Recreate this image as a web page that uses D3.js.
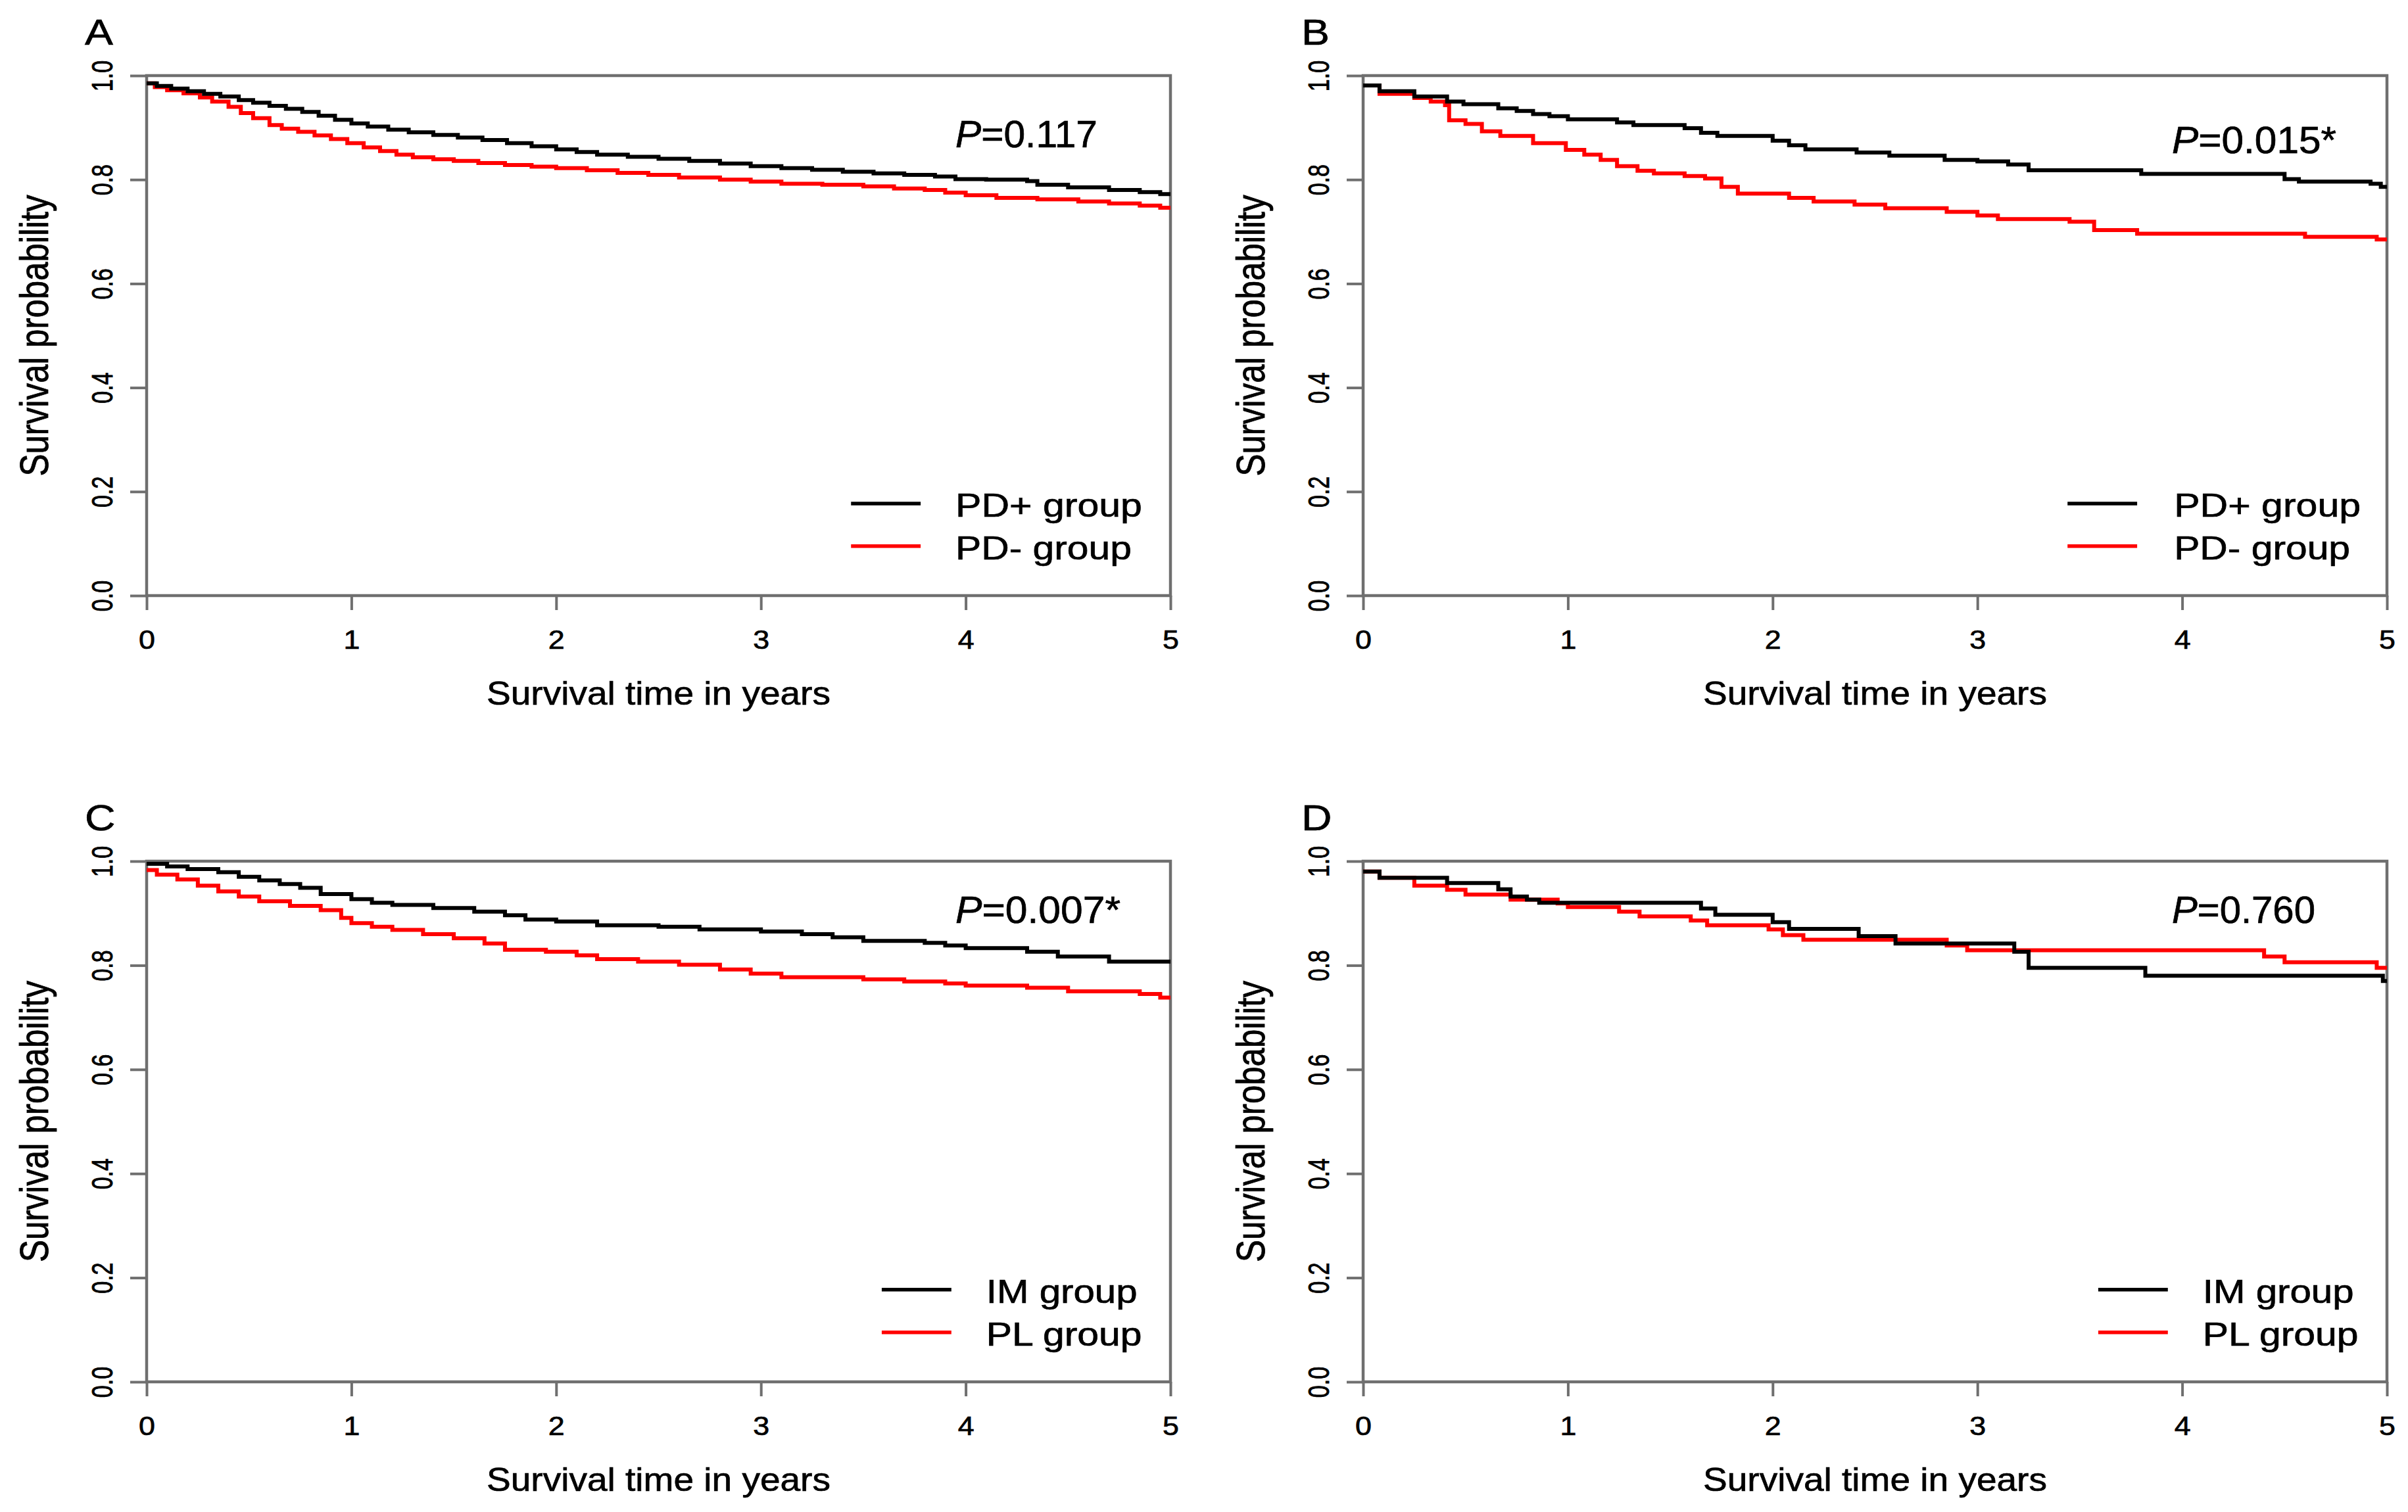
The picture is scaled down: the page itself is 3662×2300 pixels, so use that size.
<!DOCTYPE html>
<html>
<head>
<meta charset="utf-8">
<script src="https://cdn.jsdelivr.net/npm/d3@7"></script>
<style>
html,body{margin:0;padding:0;background:#fff;}
svg{display:block;}
text{font-family:"Liberation Sans",Arial,Helvetica,sans-serif;fill:#000;stroke:#000;stroke-width:0.7px;}
</style>
</head>
<body>
<svg id="chart" width="3662" height="2300"></svg>
<script>
// ---------------- data ----------------
const xTicks = [0, 1, 2, 3, 4, 5];
const yTicks = [0, 0.2, 0.4, 0.6, 0.8, 1.0];
const panelLetters = ["A", "B", "C", "D"];
const pLabels = ["0.117", "0.015*", "0.007*", "0.760"];
const groupNamesAB = ["PD+ group", "PD- group"];
const groupNamesCD = ["IM group", "PL group"];
const xTitle = "Survival time in years";
const yTitle = "Survival probability";

// [time (years), survival probability] step points
const A_black = [[0,0.985],[0.05,0.980],[0.12,0.975],[0.2,0.970],[0.28,0.965],[0.36,0.960],[0.45,0.953],[0.52,0.948],[0.6,0.942],[0.68,0.936],[0.76,0.930],[0.84,0.923],[0.92,0.915],[1.0,0.908],[1.08,0.902],[1.18,0.896],[1.28,0.891],[1.4,0.886],[1.52,0.881],[1.64,0.876],[1.76,0.870],[1.88,0.864],[2.0,0.858],[2.1,0.853],[2.2,0.848],[2.35,0.844],[2.5,0.840],[2.65,0.836],[2.8,0.831],[2.95,0.826],[3.1,0.822],[3.25,0.819],[3.4,0.815],[3.55,0.812],[3.7,0.809],[3.85,0.806],[3.95,0.801],[4.1,0.800],[4.3,0.797],[4.35,0.790],[4.5,0.785],[4.7,0.780],[4.85,0.776],[4.95,0.772],[5,0.772]];
const A_red = [[0,0.985],[0.04,0.978],[0.1,0.972],[0.18,0.966],[0.26,0.958],[0.32,0.950],[0.4,0.940],[0.46,0.928],[0.52,0.918],[0.6,0.905],[0.66,0.898],[0.74,0.892],[0.82,0.885],[0.9,0.878],[0.98,0.870],[1.06,0.862],[1.14,0.855],[1.22,0.848],[1.3,0.843],[1.4,0.839],[1.5,0.836],[1.62,0.832],[1.75,0.828],[1.88,0.825],[2.0,0.822],[2.15,0.818],[2.3,0.813],[2.45,0.809],[2.6,0.804],[2.8,0.800],[2.95,0.796],[3.1,0.792],[3.3,0.790],[3.5,0.787],[3.65,0.783],[3.8,0.780],[3.9,0.775],[4.0,0.770],[4.15,0.765],[4.35,0.762],[4.55,0.758],[4.7,0.754],[4.85,0.750],[4.95,0.746],[5,0.746]];
const B_black = [[0,0.981],[0.08,0.970],[0.25,0.960],[0.41,0.950],[0.49,0.945],[0.66,0.937],[0.75,0.932],[0.83,0.926],[0.91,0.922],[1.0,0.916],[1.24,0.910],[1.32,0.905],[1.57,0.899],[1.65,0.890],[1.73,0.884],[2.0,0.875],[2.08,0.866],[2.16,0.858],[2.41,0.852],[2.57,0.846],[2.84,0.838],[3.0,0.835],[3.15,0.829],[3.25,0.818],[3.8,0.811],[4.5,0.801],[4.57,0.796],[4.92,0.792],[4.97,0.786],[5,0.786]];
const B_red = [[0,0.981],[0.08,0.965],[0.25,0.957],[0.33,0.950],[0.4,0.943],[0.42,0.914],[0.5,0.907],[0.58,0.893],[0.67,0.884],[0.83,0.870],[0.99,0.857],[1.08,0.848],[1.16,0.838],[1.24,0.826],[1.34,0.817],[1.42,0.812],[1.57,0.807],[1.67,0.802],[1.75,0.786],[1.83,0.773],[2.08,0.765],[2.2,0.758],[2.4,0.752],[2.55,0.745],[2.85,0.738],[3.0,0.731],[3.1,0.724],[3.45,0.719],[3.57,0.703],[3.78,0.696],[4.6,0.690],[4.95,0.685],[5,0.685]];
const C_black = [[0,0.995],[0.1,0.990],[0.2,0.985],[0.35,0.979],[0.45,0.970],[0.55,0.963],[0.65,0.956],[0.75,0.949],[0.85,0.937],[1.0,0.927],[1.1,0.920],[1.2,0.916],[1.4,0.910],[1.6,0.903],[1.75,0.896],[1.85,0.888],[2.0,0.884],[2.2,0.877],[2.5,0.874],[2.7,0.869],[3.0,0.865],[3.2,0.860],[3.35,0.854],[3.5,0.847],[3.8,0.843],[3.9,0.838],[4.0,0.833],[4.3,0.826],[4.45,0.817],[4.7,0.807],[5,0.807]];
const C_red = [[0,0.983],[0.05,0.974],[0.15,0.965],[0.25,0.953],[0.35,0.942],[0.45,0.932],[0.55,0.923],[0.7,0.914],[0.85,0.906],[0.95,0.891],[1.0,0.881],[1.1,0.874],[1.2,0.868],[1.35,0.860],[1.5,0.852],[1.65,0.842],[1.75,0.830],[1.95,0.826],[2.1,0.819],[2.2,0.812],[2.4,0.807],[2.6,0.801],[2.8,0.792],[2.95,0.784],[3.1,0.777],[3.5,0.773],[3.7,0.769],[3.9,0.765],[4.0,0.761],[4.3,0.757],[4.5,0.750],[4.85,0.745],[4.95,0.738],[5,0.738]];
const D_black = [[0,0.980],[0.08,0.968],[0.41,0.958],[0.66,0.946],[0.72,0.932],[0.8,0.926],[0.86,0.920],[1.65,0.909],[1.72,0.897],[2.0,0.883],[2.08,0.870],[2.42,0.856],[2.6,0.842],[3.18,0.826],[3.25,0.795],[3.82,0.780],[4.98,0.770],[5,0.770]];
const D_red = [[0,0.980],[0.08,0.968],[0.25,0.953],[0.41,0.945],[0.5,0.936],[0.72,0.926],[0.95,0.919],[1.0,0.912],[1.25,0.903],[1.35,0.894],[1.6,0.886],[1.68,0.877],[1.98,0.869],[2.05,0.858],[2.15,0.849],[2.85,0.838],[2.95,0.829],[4.4,0.817],[4.5,0.806],[4.95,0.795],[5,0.795]];

// ---------------- layout / style ----------------
const W = 3662, H = 2300;
const AXIS = "#6f6f6f";
const RED = "#ff0000";
const panels = [
  {letter: panelLetters[0], left: 223,  top: 115,  bottom: 906,  black: A_black, red: A_red, names: groupNamesAB, p: pLabels[0], pY: 0.862, pW: 216, leg: [3.44, 3.78, 3.95]},
  {letter: panelLetters[1], left: 2073, top: 115,  bottom: 906,  black: B_black, red: B_red, names: groupNamesAB, p: pLabels[1], pY: 0.851, pW: 250, leg: [3.44, 3.78, 3.96]},
  {letter: panelLetters[2], left: 223,  top: 1310, bottom: 2102, black: C_black, red: C_red, names: groupNamesCD, p: pLabels[2], pY: 0.881, pW: 251, leg: [3.59, 3.93, 4.10]},
  {letter: panelLetters[3], left: 2073, top: 1310, bottom: 2102, black: D_black, red: D_red, names: groupNamesCD, p: pLabels[3], pY: 0.881, pW: 218, leg: [3.59, 3.93, 4.10]}
];
const PW = 1557;
const legRows = [0.177, 0.095];
const legW = {"PD+ group": 284, "PD- group": 268, "IM group": 230, "PL group": 237};

const svg = d3.select("#chart");
svg.append("rect").attr("width", W).attr("height", H).attr("fill", "#fff");

// place a text so that its rendered width equals targetW (horizontal stretch)
function fitText(sel, x, y, targetW, rotate) {
  const len = sel.node().getComputedTextLength();
  sel.attr("transform", `translate(${x},${y}) scale(${targetW / len},1)` + (rotate ? " rotate(-90)" : ""));
}

panels.forEach((p, i) => {
  const right = p.left + PW;
  const x = d3.scaleLinear().domain([0, 5]).range([p.left, right]);
  const y = d3.scaleLinear().domain([0, 1]).range([p.bottom, p.top]);
  const g = svg.append("g");

  const cid = "clip" + i;
  svg.append("clipPath").attr("id", cid).append("rect")
    .attr("x", p.left).attr("y", p.top - 3).attr("width", PW).attr("height", p.bottom - p.top + 3);

  const line = d3.line().x(d => x(d[0])).y(d => y(d[1])).curve(d3.curveStepAfter);

  // box
  g.append("rect").attr("x", p.left).attr("y", p.top).attr("width", PW).attr("height", p.bottom - p.top)
    .attr("fill", "none").attr("stroke", AXIS).attr("stroke-width", 4.5);

  // curves
  const cg = g.append("g").attr("clip-path", `url(#${cid})`);
  cg.append("path").datum(p.red).attr("d", line).attr("fill", "none").attr("stroke", RED).attr("stroke-width", 6);
  cg.append("path").datum(p.black).attr("d", line).attr("fill", "none").attr("stroke", "#000").attr("stroke-width", 6);

  // x axis
  const tfs = 40, tsx = 1.12;
  const xa = g.append("g").attr("transform", `translate(0,${p.bottom})`)
    .call(d3.axisBottom(x).tickValues(xTicks).tickSize(22).tickSizeOuter(0).tickFormat(d3.format("d")));
  xa.attr("font-family", null).attr("font-size", null);
  xa.select(".domain").remove();
  xa.selectAll(".tick line").attr("stroke", AXIS).attr("stroke-width", 4);
  xa.selectAll(".tick text").attr("y", 0).attr("dy", 0).attr("fill", "#111")
    .attr("font-size", tfs).attr("text-anchor", "middle")
    .attr("transform", `translate(0,${67 + 0.358 * tfs}) scale(${tsx},1)`);

  // y axis
  const ya = g.append("g").attr("transform", `translate(${p.left},0)`)
    .call(d3.axisLeft(y).tickValues(yTicks).tickSize(25).tickSizeOuter(0).tickFormat(d3.format(".1f")));
  ya.attr("font-family", null).attr("font-size", null);
  ya.select(".domain").remove();
  ya.selectAll(".tick line").attr("stroke", AXIS).attr("stroke-width", 4);
  const yLabX = 155 + 0.358 * 34 * 1.3 - 223;
  ya.selectAll(".tick text").attr("x", 0).attr("dy", 0).attr("fill", "#111")
    .attr("font-size", 34).attr("text-anchor", "middle")
    .attr("transform", `translate(${yLabX},0) scale(1.3,1) rotate(-90)`);

  // axis titles
  const xt = g.append("text").attr("font-size", 50).attr("text-anchor", "middle").text(xTitle);
  fitText(xt, (p.left + right) / 2, p.bottom + 166, 523, false);
  g.append("text").attr("font-size", 51).attr("text-anchor", "middle")
    .attr("transform", `translate(${p.left - 223 + 58 + 0.253 * 51 * 1.2},${(p.top + p.bottom) / 2}) scale(1.2,1) rotate(-90)`)
    .text(yTitle);

  // panel letter
  g.append("text").attr("font-size", 56)
    .attr("transform", `translate(${p.left - 94},${p.top - 47}) scale(1.15,1)`)
    .text(p.letter);

  // P value
  const pt = g.append("text").attr("font-size", 57);
  pt.append("tspan").attr("font-style", "italic").text("P");
  pt.append("tspan").text("=" + p.p);
  fitText(pt, x(3.95), y(p.pY), p.pW, false);

  // legend
  [["#000", p.names[0]], [RED, p.names[1]]].forEach((e, k) => {
    const ly = y(legRows[k]);
    g.append("line").attr("x1", x(p.leg[0])).attr("x2", x(p.leg[1])).attr("y1", ly).attr("y2", ly)
      .attr("stroke", e[0]).attr("stroke-width", 5.5);
    const lt = g.append("text").attr("font-size", 50).text(e[1]);
    fitText(lt, x(p.leg[2]), ly + 20, legW[e[1]], false);
  });
});
</script>
</body>
</html>
